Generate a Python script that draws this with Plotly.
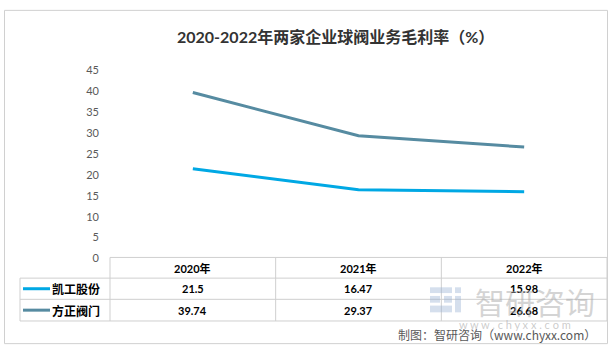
import plotly.graph_objects as go

years = ["2020年", "2021年", "2022年"]
series_names = ["凯工股份", "方正阀门"]
kaigong = [21.5, 16.47, 15.98]
fangzheng = [39.74, 29.37, 26.68]
y_ticks = [0, 5, 10, 15, 20, 25, 30, 35, 40, 45]
title = "2020-2022年两家企业球阀业务毛利率（%）"
source = "制图：智研咨询（www.chyxx.com）"

W, H = 612, 353
colors = ["#00A8E4", "#568BA1"]
series_vals = [kaigong, fangzheng]

def px(x):
    return x / W

def py(y):
    return 1 - y / H

X0, X1 = 110, 607
Y0, Y45 = 261, 66

fig = go.Figure()
for name, vals, c in zip(series_names, series_vals, colors):
    fig.add_trace(go.Scatter(x=years, y=vals, mode="lines", name=name,
                             line=dict(color=c, width=3), showlegend=False))

shapes = []
annotations = []
grid = "#CFCFCF"

def ann(x, y, text, size, color, family, xa="center"):
    annotations.append(dict(x=px(x), y=py(y), xref="paper", yref="paper", text=text,
                            showarrow=False, xanchor=xa, yanchor="middle",
                            font=dict(size=size, color=color, family=family)))

def hline(x0, x1, y, color=grid, w=1):
    shapes.append(dict(type="line", xref="paper", yref="paper", x0=px(x0), x1=px(x1),
                       y0=py(y), y1=py(y), line=dict(color=color, width=w)))

def vline(x, y0, y1):
    shapes.append(dict(type="line", xref="paper", yref="paper", x0=px(x), x1=px(x),
                       y0=py(y0), y1=py(y1), line=dict(color=grid, width=1)))

# outer border
shapes.append(dict(type="rect", xref="paper", yref="paper", x0=px(4.5), x1=px(607.5),
                   y0=py(349.5), y1=py(3.5), line=dict(color="#D0D0D0", width=1)))
# table
rows = [260, 281.5, 303.5, 326]
col_w = (X1 - X0) / len(years)
cols = [X0 + i * col_w for i in range(len(years) + 1)]
L = 20
hline(X0, X1, rows[0])
for r in rows[1:]:
    hline(L, X1, r)
vline(L, rows[1], rows[3])
for c in cols:
    vline(c, rows[0], rows[3])

for i, yr in enumerate(years):
    ann(cols[i] + col_w / 2, (rows[0] + rows[1]) / 2 + 0.5, "<b>%s</b>" % yr, 11, "#000000",
        "Lato, Noto Sans CJK SC")
for j, (name, vals, c) in enumerate(zip(series_names, series_vals, colors)):
    yc = (rows[j + 1] + rows[j + 2]) / 2
    hline(23, 50, yc, color=c, w=3)
    ann(50, yc, "<b>%s</b>" % name, 12, "#000000", "Noto Sans CJK SC", xa="left")
    for i, v in enumerate(vals):
        ann(cols[i] + col_w / 2, yc, "<b>%s</b>" % v, 11, "#000000", "Lato")

# watermark
ann(535, 305, "智研咨询", 30, "rgba(170,170,170,0.5)", "Noto Sans CJK SC")
ann(515, 330, "w w w . c h y x x . c o m", 11, "rgba(170,170,170,0.6)", "Lato")
for (a, b, c2, d) in [(430, 291, 452, 297), (430, 300, 440, 307), (444, 300, 452, 307),
                      (430, 310, 452, 317), (455, 291, 461, 297), (455, 300, 461, 317)]:
    shapes.append(dict(type="rect", xref="paper", yref="paper", x0=px(a), x1=px(c2),
                       y0=py(d), y1=py(b), line=dict(width=0),
                       fillcolor="rgba(150,175,210,0.4)"))
ann(598, 340, source, 12, "#595959", "Noto Sans CJK SC", xa="right")
ann(335, 31, "<b>" + title + "</b>", 16, "#333333", "Lato, Noto Sans CJK SC")

fig.update_layout(
    width=W, height=H, margin=dict(l=0, r=0, t=0, b=0),
    paper_bgcolor="white", plot_bgcolor="white",
    xaxis=dict(domain=[px(X0), px(X1)], range=[-0.5, 2.5], showticklabels=False,
               showgrid=False, zeroline=False, showline=False),
    yaxis=dict(domain=[py(Y0), py(Y45)], range=[0, 45], tickvals=y_ticks,
               showgrid=False, zeroline=False, showline=False, ticks="",
               ticklabelstandoff=10,
               tickfont=dict(size=11, color="#595959", family="Lato")),
    shapes=shapes, annotations=annotations,
)
fig.write_html("out.html")
